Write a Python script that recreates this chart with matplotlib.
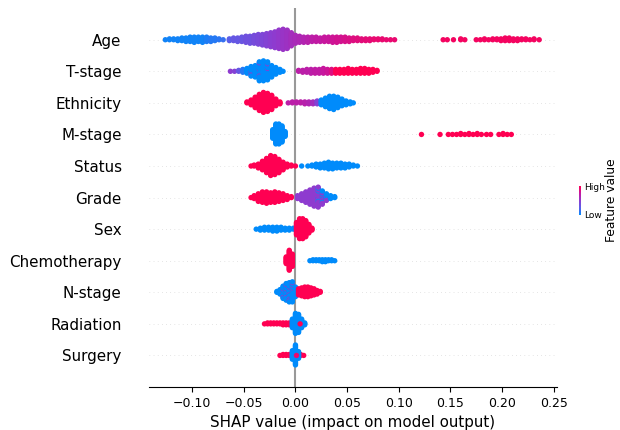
import numpy as np
import matplotlib
matplotlib.use("Agg")
import matplotlib.pyplot as plt
from matplotlib.colors import LinearSegmentedColormap
from matplotlib.colorbar import ColorbarBase

# features, top to bottom
features = ['Age', 'T-stage', 'Ethnicity', 'M-stage', 'Status', 'Grade',
            'Sex', 'Chemotherapy', 'N-stage', 'Radiation', 'Surgery']

# binned SHAP values: (shap value, number of points, feature value 0..1)
age = [(-0.126, 1, 0.05), (-0.122, 2, 0.05), (-0.118, 2, 0.05), (-0.114, 3, 0.05),
       (-0.110, 4, 0.05), (-0.106, 5, 0.05), (-0.102, 6, 0.05), (-0.098, 7, 0.05),
       (-0.094, 6, 0.05), (-0.090, 7, 0.05), (-0.086, 6, 0.08), (-0.082, 5, 0.1),
       (-0.078, 4, 0.1), (-0.074, 2, 0.12), (-0.070, 1, 0.15),
       (-0.064, 3, 0.25), (-0.060, 4, 0.3), (-0.056, 5, 0.3), (-0.052, 6, 0.32),
       (-0.048, 8, 0.35), (-0.044, 9, 0.35), (-0.040, 10, 0.38), (-0.036, 12, 0.4),
       (-0.032, 13, 0.42), (-0.028, 15, 0.45), (-0.024, 17, 0.48), (-0.020, 19, 0.5),
       (-0.016, 22, 0.52), (-0.012, 24, 0.55), (-0.008, 22, 0.57), (-0.004, 16, 0.6),
       (0.000, 10, 0.62), (0.004, 8, 0.64), (0.008, 7, 0.66), (0.012, 7, 0.68),
       (0.016, 6, 0.7), (0.020, 6, 0.72), (0.024, 5, 0.73), (0.028, 6, 0.75),
       (0.032, 6, 0.76), (0.036, 7, 0.78), (0.040, 7, 0.8), (0.044, 6, 0.8),
       (0.048, 6, 0.82), (0.052, 5, 0.83), (0.056, 4, 0.85), (0.060, 4, 0.86),
       (0.064, 3, 0.87), (0.068, 3, 0.88), (0.072, 3, 0.88), (0.076, 2, 0.9),
       (0.080, 2, 0.9), (0.084, 2, 0.9), (0.088, 1, 0.9), (0.092, 1, 0.9), (0.096, 1, 0.9),
       (0.143, 1, 0.95), (0.147, 1, 0.95), (0.153, 1, 0.95), (0.160, 2, 0.95),
       (0.164, 1, 0.95), (0.175, 1, 0.95), (0.179, 1, 0.95), (0.183, 2, 0.95),
       (0.187, 1, 0.95), (0.191, 2, 0.95), (0.195, 2, 0.95), (0.199, 3, 0.95),
       (0.203, 4, 0.95), (0.207, 4, 0.95), (0.211, 3, 0.95), (0.215, 3, 0.95),
       (0.219, 2, 0.95), (0.223, 2, 0.95), (0.227, 1, 0.95), (0.231, 2, 0.95),
       (0.236, 1, 0.95)]
t_stage = [(-0.063, 1, 0.5), (-0.059, 1, 0.45), (-0.055, 2, 0.3), (-0.051, 4, 0.1),
           (-0.047, 6, 0.0), (-0.043, 9, 0.0), (-0.043, 2, 0.5), (-0.039, 13, 0.0),
           (-0.035, 18, 0.0), (-0.035, 3, 0.5), (-0.031, 22, 0.0), (-0.027, 18, 0.0),
           (-0.027, 2, 0.5), (-0.023, 13, 0.0), (-0.019, 8, 0.0), (-0.015, 4, 0.0),
           (-0.012, 1, 0.0),
           (0.003, 2, 0.7), (0.007, 3, 0.7), (0.011, 4, 0.7), (0.015, 5, 0.7),
           (0.019, 5, 0.72), (0.023, 5, 0.72), (0.027, 6, 0.75), (0.031, 5, 0.78),
           (0.035, 5, 0.85), (0.039, 5, 1.0), (0.043, 5, 1.0), (0.047, 5, 1.0),
           (0.051, 6, 1.0), (0.055, 5, 1.0), (0.059, 5, 1.0), (0.063, 6, 1.0),
           (0.067, 6, 1.0), (0.071, 5, 1.0), (0.075, 4, 1.0), (0.079, 2, 1.0)]
ethnicity = [(-0.047, 2, 1.0), (-0.043, 6, 1.0), (-0.039, 12, 1.0), (-0.035, 18, 1.0),
             (-0.031, 22, 1.0), (-0.027, 20, 1.0), (-0.023, 16, 1.0), (-0.019, 8, 1.0),
             (-0.015, 3, 1.0),
             (-0.007, 1, 0.7), (-0.003, 2, 0.7), (0.001, 2, 0.7), (0.005, 2, 0.7),
             (0.009, 3, 0.68), (0.013, 3, 0.65), (0.017, 3, 0.6), (0.021, 4, 0.45),
             (0.025, 6, 0.0), (0.029, 10, 0.0), (0.033, 14, 0.0), (0.037, 15, 0.0),
             (0.041, 12, 0.0), (0.045, 8, 0.0), (0.049, 5, 0.0), (0.053, 3, 0.0),
             (0.056, 1, 0.0)]
m_stage = [(-0.022, 10, 0.0), (-0.019, 22, 0.0), (-0.016, 22, 0.0), (-0.013, 18, 0.0),
           (-0.010, 6, 0.0),
           (0.122, 1, 1.0), (0.140, 1, 1.0), (0.148, 1, 1.0), (0.152, 1, 1.0),
           (0.156, 1, 1.0), (0.160, 2, 1.0), (0.164, 1, 1.0), (0.168, 2, 1.0),
           (0.172, 1, 1.0), (0.176, 2, 1.0), (0.180, 1, 1.0), (0.185, 1, 1.0),
           (0.189, 1, 1.0), (0.197, 1, 1.0), (0.201, 2, 1.0), (0.205, 1, 1.0),
           (0.209, 1, 1.0)]
status = [(-0.043, 1, 1.0), (-0.040, 2, 1.0), (-0.036, 5, 1.0), (-0.032, 10, 1.0),
          (-0.028, 16, 1.0), (-0.024, 22, 1.0), (-0.020, 20, 1.0), (-0.016, 15, 1.0),
          (-0.012, 9, 1.0), (-0.008, 4, 1.0), (-0.004, 2, 1.0), (0.000, 1, 1.0),
          (0.006, 1, 0.0), (0.012, 1, 0.0), (0.016, 2, 0.0), (0.020, 4, 0.0),
          (0.024, 5, 0.0), (0.028, 6, 0.0), (0.032, 8, 0.0), (0.036, 7, 0.0),
          (0.040, 6, 0.0), (0.044, 6, 0.0), (0.048, 5, 0.0), (0.052, 4, 0.0),
          (0.056, 2, 0.0), (0.060, 1, 0.0)]
grade = [(-0.043, 1, 1.0), (-0.040, 4, 1.0), (-0.036, 9, 1.0), (-0.032, 12, 1.0),
         (-0.028, 13, 1.0), (-0.024, 11, 1.0), (-0.020, 12, 1.0), (-0.016, 10, 1.0),
         (-0.012, 8, 1.0), (-0.008, 5, 1.0), (-0.004, 2, 1.0),
         (0.002, 4, 0.5), (0.006, 8, 0.5), (0.010, 12, 0.5), (0.014, 16, 0.5),
         (0.018, 20, 0.5), (0.022, 18, 0.5), (0.022, 4, 0.0), (0.026, 10, 0.5),
         (0.026, 5, 0.0), (0.030, 3, 0.5), (0.030, 5, 0.0), (0.034, 1, 0.5),
         (0.034, 3, 0.0), (0.038, 2, 0.0)]
sex = [(-0.038, 1, 0.0), (-0.034, 3, 0.0), (-0.030, 4, 0.0), (-0.026, 4, 0.0),
       (-0.022, 5, 0.0), (-0.018, 5, 0.0), (-0.014, 4, 0.0), (-0.010, 3, 0.0),
       (-0.006, 3, 0.0), (-0.002, 2, 0.0),
       (0.001, 14, 1.0), (0.004, 22, 1.0), (0.007, 22, 1.0), (0.010, 18, 1.0),
       (0.013, 10, 1.0), (0.016, 3, 1.0)]
chemotherapy = [(-0.009, 8, 1.0), (-0.006, 22, 1.0), (-0.003, 14, 1.0),
                (0.014, 1, 0.0), (0.017, 2, 0.0), (0.020, 2, 0.0), (0.023, 2, 0.0),
                (0.026, 3, 0.0), (0.029, 3, 0.0), (0.032, 2, 0.0), (0.035, 2, 0.0),
                (0.038, 1, 0.0)]
n_stage = [(-0.018, 2, 0.0), (-0.015, 6, 0.0), (-0.012, 12, 0.0), (-0.012, 3, 0.5),
           (-0.009, 16, 0.0), (-0.009, 4, 0.5), (-0.006, 18, 0.0), (-0.006, 5, 0.5),
           (-0.003, 20, 0.0), (-0.003, 4, 0.5), (0.000, 12, 0.0),
           (0.003, 8, 1.0), (0.006, 10, 1.0), (0.009, 12, 1.0), (0.012, 12, 1.0),
           (0.015, 10, 1.0), (0.018, 8, 1.0), (0.021, 5, 1.0), (0.024, 2, 1.0)]
radiation = [(-0.030, 1, 1.0), (-0.027, 2, 1.0), (-0.024, 2, 1.0), (-0.021, 2, 1.0),
             (-0.018, 2, 1.0), (-0.015, 2, 1.0), (-0.012, 3, 1.0), (-0.009, 3, 1.0),
             (-0.006, 3, 1.0),
             (-0.003, 10, 0.0), (0.000, 22, 0.0), (0.003, 20, 0.0), (0.006, 10, 0.0),
             (0.009, 3, 0.0), (0.0045, 1, 1.0)]
surgery = [(-0.015, 1, 1.0), (-0.012, 2, 1.0), (-0.009, 2, 1.0), (-0.006, 2, 1.0),
           (0.005, 2, 1.0), (0.008, 1, 1.0),
           (-0.003, 10, 0.0), (0.000, 22, 0.0), (0.003, 8, 0.0), (0.001, 1, 0.9)]

data = [age, t_stage, ethnicity, m_stage, status, grade, sex, chemotherapy,
        n_stage, radiation, surgery]

red_blue = LinearSegmentedColormap.from_list(
    'red_blue', ['#008bfb', '#5b5ee8', '#8e3bcf', '#c6179f', '#ff0052'])


def swarm(bins, row_height=0.4):
    # stack the points of each bin up and down around the row, like shap does
    groups = {}
    for x, n, c in bins:
        groups.setdefault(x, []).append((n, c))
    xs, ys, cs = [], [], []
    for x, parts in groups.items():
        order = []
        for n, c in parts:
            order += [((i + 0.5) / n, c) for i in range(n)]
        order.sort(key=lambda t: t[0])
        for layer, (_, c) in enumerate(order):
            xs.append(x)
            ys.append(np.ceil(layer / 2) * ((layer % 2) * 2 - 1))
            cs.append(c)
    ys = np.array(ys, dtype=float)
    ys *= 0.9 * (row_height / np.max(ys + 1))
    return np.array(xs), ys, np.array(cs)


fig = plt.figure(figsize=(6.2, 4.3), dpi=100)
ax = fig.add_axes([0.240, 0.100, 0.658, 0.881])

n = len(features)
for i, (name, bins) in enumerate(zip(features, data)):
    pos = n - 1 - i
    ax.axhline(y=pos, color='#cccccc', lw=0.5, dashes=(1, 5), zorder=-1)
    xs, ys, cs = swarm(bins)
    ax.scatter(xs, pos + ys, c=cs, cmap=red_blue, vmin=0, vmax=1, s=15,
               linewidth=0, alpha=1, rasterized=True)

ax.axvline(x=0, color='#999999', zorder=-1)
ax.set_xlim(-0.142, 0.253)
ax.set_ylim(-1, n)
ax.set_yticks(range(n))
ax.set_yticklabels(features[::-1], fontsize=10.9)
ax.tick_params('y', length=16, width=0.5, pad=3.5)
ax.yaxis.set_ticks_position('none')
ax.xaxis.set_ticks_position('bottom')
ax.tick_params('x', labelsize=9)
ax.set_xlabel('SHAP value (impact on model output)', fontsize=10.9)
for s in ['top', 'right', 'left']:
    ax.spines[s].set_visible(False)

cax = fig.add_axes([579 / 620, 1 - 215 / 430, 2 / 620, 29 / 430])
cb = ColorbarBase(cax, cmap=red_blue, ticks=[0, 1])
cb.set_ticklabels(['Low', 'High'])
cb.outline.set_visible(False)
cax.tick_params(labelsize=6.5, length=0, pad=2)
cb.set_label('Feature value', size=8.8, labelpad=0)

fig.savefig('out.png', dpi=100)
